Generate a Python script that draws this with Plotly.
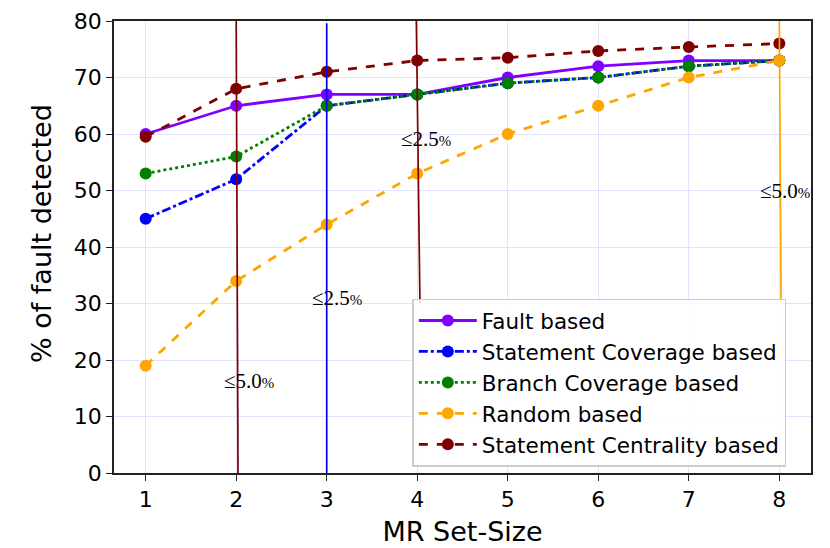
import plotly.graph_objects as go

set_size = [1, 2, 3, 4, 5, 6, 7, 8]
fault_based = [60, 65, 67, 67, 70, 72, 73, 73]
statement_cov = [45, 52, 65, 67, 69, 70, 72, 73]
branch_cov = [53, 56, 65, 67, 69, 70, 72, 73]
random_based = [19, 34, 44, 53, 60, 65, 70, 73]
centrality = [59.5, 68, 71, 73, 73.5, 74.7, 75.4, 76]

# threshold marker lines (x start/end, y start/end)
vlines = [
    ([2.0, 2.02], [80, 0], "#800000"),
    ([3.0, 3.0], [79.6, 0], "#0000ff"),
    ([3.99, 4.03], [80, 30], "#800000"),
    ([8.0, 8.02], [80, 30], "#ffa500"),
]
notes = [
    (2.14, 16.3, "≤5.0"),
    (3.11, 31.0, "≤2.5"),
    (4.10, 59.1, "≤2.5"),
    (8.06, 49.9, "≤5.0"),
]

series = [
    ("Fault based", fault_based, "#8000ff", "solid"),
    ("Statement Coverage based", statement_cov, "#0000ff", "dashdot"),
    ("Branch Coverage based", branch_cov, "#008000", "dot"),
    ("Random based", random_based, "#ffa500", "dash"),
    ("Statement Centrality based", centrality, "#800000", "dash"),
]

fig = go.Figure()
for name, vals, color, dash in series:
    fig.add_trace(go.Scatter(
        x=set_size, y=vals, name=name, mode="lines+markers",
        line=dict(color=color, width=2.8, dash=dash),
        marker=dict(color=color, size=12),
    ))

for xs, ys, color in vlines:
    fig.add_trace(go.Scatter(
        x=xs, y=ys, mode="lines", showlegend=False, hoverinfo="skip",
        line=dict(color=color, width=1.7),
    ))

for x, y, t in notes:
    fig.add_annotation(
        x=x, y=y, xref="x", yref="y", showarrow=False,
        text=t + "<span style='font-size:15px'>%</span>",
        font=dict(family="Liberation Serif", size=21, color="black"),
    )

# y-axis title as a rotated annotation
fig.add_annotation(
    x=-0.1033, y=0.531, xref="paper", yref="paper", showarrow=False,
    text="% of fault detected", textangle=-90,
    xanchor="center", yanchor="middle",
    font=dict(family="DejaVu Sans", size=27, color="black"),
)

fig.update_layout(
    width=823, height=541,
    margin=dict(l=106, r=20, t=13, b=76, autoexpand=False),
    paper_bgcolor="white", plot_bgcolor="white",
    font=dict(family="DejaVu Sans", size=22, color="black"),
    legend=dict(
        x=0.428, y=0.386, xanchor="left", yanchor="top",
        bgcolor="rgba(255,255,255,0.85)", bordercolor="#cccccc", borderwidth=1.5,
        font=dict(family="DejaVu Sans", size=21.5),
        tracegroupgap=0, itemwidth=58,
        entrywidth=345, entrywidthmode="pixels",
    ),
)
fig.update_xaxes(
    range=[0.65, 8.35], tickmode="array", tickvals=set_size,
    showgrid=True, gridcolor="#e3e3fc", gridwidth=1,
    showline=True, linecolor="#222222", linewidth=1.5, mirror=True,
    ticks="outside", ticklen=6, tickcolor="#222222", tickwidth=1.3,
    zeroline=False, automargin=False, ticklabeloverflow="allow",
    title=dict(text="MR Set-Size", font=dict(size=27), standoff=11),
    tickfont=dict(size=22),
)
fig.update_yaxes(
    range=[0, 80], tickmode="linear", tick0=0, dtick=10,
    showgrid=True, gridcolor="#e3e3fc", gridwidth=1,
    showline=True, linecolor="#222222", linewidth=1.5, mirror=True,
    ticks="outside", ticklen=6, tickcolor="#222222", tickwidth=1.3,
    zeroline=False, automargin=False, ticklabeloverflow="allow",
    tickfont=dict(size=22),
)

fig.write_html("out.html")
